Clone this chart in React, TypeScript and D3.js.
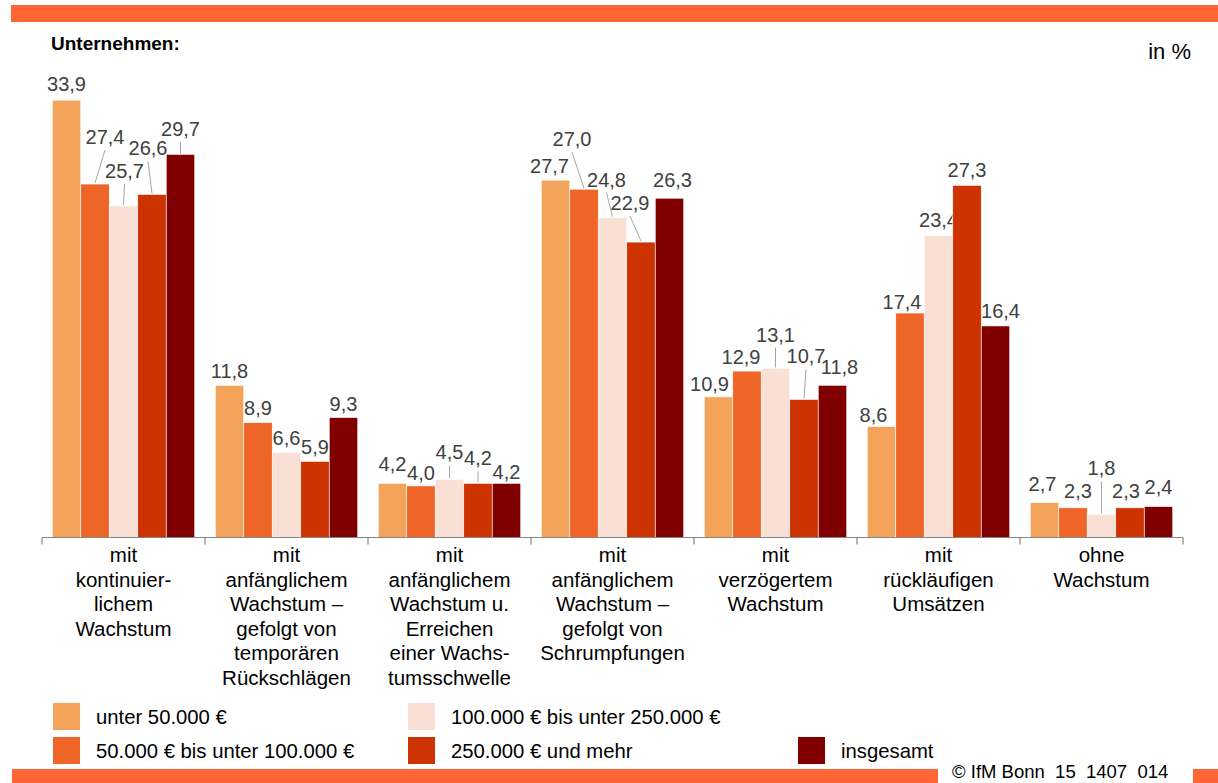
import React from "react";
import * as d3 from "d3";

const categories = [
    ["mit", "kontinuier-", "lichem", "Wachstum"],
    ["mit", "anfänglichem", "Wachstum –", "gefolgt von", "temporären", "Rückschlägen"],
    ["mit", "anfänglichem", "Wachstum u.", "Erreichen", "einer Wachs-", "tumsschwelle"],
    ["mit", "anfänglichem", "Wachstum –", "gefolgt von", "Schrumpfungen"],
    ["mit", "verzögertem", "Wachstum"],
    ["mit", "rückläufigen", "Umsätzen"],
    ["ohne", "Wachstum"],
];

const seriesNames = [
    "unter 50.000 €",
    "50.000 € bis unter 100.000 €",
    "100.000 € bis unter 250.000 €",
    "250.000 € und mehr",
    "insgesamt",
];

const unter50 = [33.9, 11.8, 4.2, 27.7, 10.9, 8.6, 2.7];
const bis100 = [27.4, 8.9, 4.0, 27.0, 12.9, 17.4, 2.3];
const bis250 = [25.7, 6.6, 4.5, 24.8, 13.1, 23.4, 1.8];
const ab250 = [26.6, 5.9, 4.2, 22.9, 10.7, 27.3, 2.3];
const insgesamt = [29.7, 9.3, 4.2, 26.3, 11.8, 16.4, 2.4];

const values = [unter50, bis100, bis250, ab250, insgesamt];
const colors = ["#F4A35A", "#EF6427", "#FADFD5", "#CC3300", "#800000"];

// label nudges [dx, dy] (px, relative to bar centre / bar top), per series then category
const labelNudge: [number, number][][] = [
    [[0, -16], [0, -14], [0, -19], [-6, -14], [-9, -13], [-8, -12], [-2, -19]],
    [[10, -47], [0, -15], [0, -13], [-12, -50], [-6, -14], [-8, -11], [5, -17]],
    [[1, -35], [0, -14], [0, -27], [-6, -38], [0, -34], [0, -16], [0, -46]],
    [[-4, -46], [0, -14], [0, -25], [-11, -39], [2, -43], [0, -15], [-4, -17]],
    [[0, -25], [0, -14], [0, -11], [3, -18], [7, -18], [5, -15], [0, -20]],
];

const font = "'Liberation Sans', Arial, sans-serif";

export default function App() {
    const width = 1218;
    const height = 783;

    const x = d3.scaleBand<number>()
        .domain(d3.range(categories.length))
        .range([42, 1183])
        .paddingInner(0)
        .paddingOuter(0);

    const xs = d3.scaleBand<number>()
        .domain(d3.range(seriesNames.length))
        .range([0, x.bandwidth()])
        .paddingInner(0)
        .paddingOuter(0.36);

    const y = d3.scaleLinear().domain([0, 35]).range([537.5, 86]);
    const fmt = (v: number) => v.toFixed(1).replace(".", ",");

    const legendPos = [[53, 703], [53, 737], [408, 703], [408, 737], [798, 737]];

    return (
        <svg width={width} height={height} style={{position: "absolute", left: 0, top: 0}}
             fontFamily={font}>
            <rect x={11} y={5} width={width - 11} height={17} fill="#FF6633"/>
            <text x={51} y={50} fontSize={19} fontWeight="bold" fill="#000">Unternehmen:</text>
            <text x={1191} y={59} fontSize={22} textAnchor="end" fill="#000">in %</text>

            {values.map((vals, s) => (
                <g key={s}>
                    {vals.map((v, c) => {
                        const bx = x(c)! + xs(s)!;
                        const cx = bx + xs.bandwidth() / 2;
                        const top = y(v);
                        const [dx, dy] = labelNudge[s][c];
                        const lx = cx + dx;
                        const ly = top + dy;
                        return (
                            <g key={c}>
                                <rect x={bx} y={top} width={xs.bandwidth()} height={y(0) - top}
                                      fill={colors[s]} stroke="#fff" strokeWidth={0.6}/>
                                {dy < -22 && (
                                    <line x1={lx} y1={ly + 13} x2={cx} y2={top - 1}
                                          stroke="#A6A6A6" strokeWidth={1}/>
                                )}
                                <text x={lx} y={ly} dy="0.35em" fontSize={20} textAnchor="middle"
                                      fill="#404040">{fmt(v)}</text>
                            </g>
                        );
                    })}
                </g>
            ))}

            <line x1={42} x2={1183} y1={y(0)} y2={y(0)} stroke="#868686" strokeWidth={1.2}/>
            {d3.range(categories.length + 1).map(i => {
                const tx = i < categories.length ? x(i)! : 1183;
                return <line key={i} x1={tx} x2={tx} y1={y(0)} y2={y(0) + 7}
                             stroke="#868686" strokeWidth={1.2}/>;
            })}

            {categories.map((lines, c) => (
                <text key={c} x={x(c)! + x.bandwidth() / 2} y={562} fontSize={20.5}
                      textAnchor="middle" fill="#000">
                    {lines.map((l, i) => (
                        <tspan key={i} x={x(c)! + x.bandwidth() / 2} dy={i === 0 ? 0 : 24.6}>{l}</tspan>
                    ))}
                </text>
            ))}

            {seriesNames.map((name, s) => (
                <g key={s} transform={`translate(${legendPos[s][0]},${legendPos[s][1]})`}>
                    <rect width={27} height={27} fill={colors[s]}/>
                    <text x={43} y={14} dy="0.35em" fontSize={20.3} fill="#000">{name}</text>
                </g>
            ))}

            <rect x={12} y={769} width={926} height={14} fill="#FF6633"/>
            <text x={952} y={772} dy="0.35em" fontSize={18.5} fill="#000">
                {"© IfM Bonn\u00A0\u00A015\u00A0\u00A01407\u00A0\u00A0014"}
            </text>
            <rect x={1193} y={769} width={25} height={14} fill="#FF6633"/>
        </svg>
    );
}
